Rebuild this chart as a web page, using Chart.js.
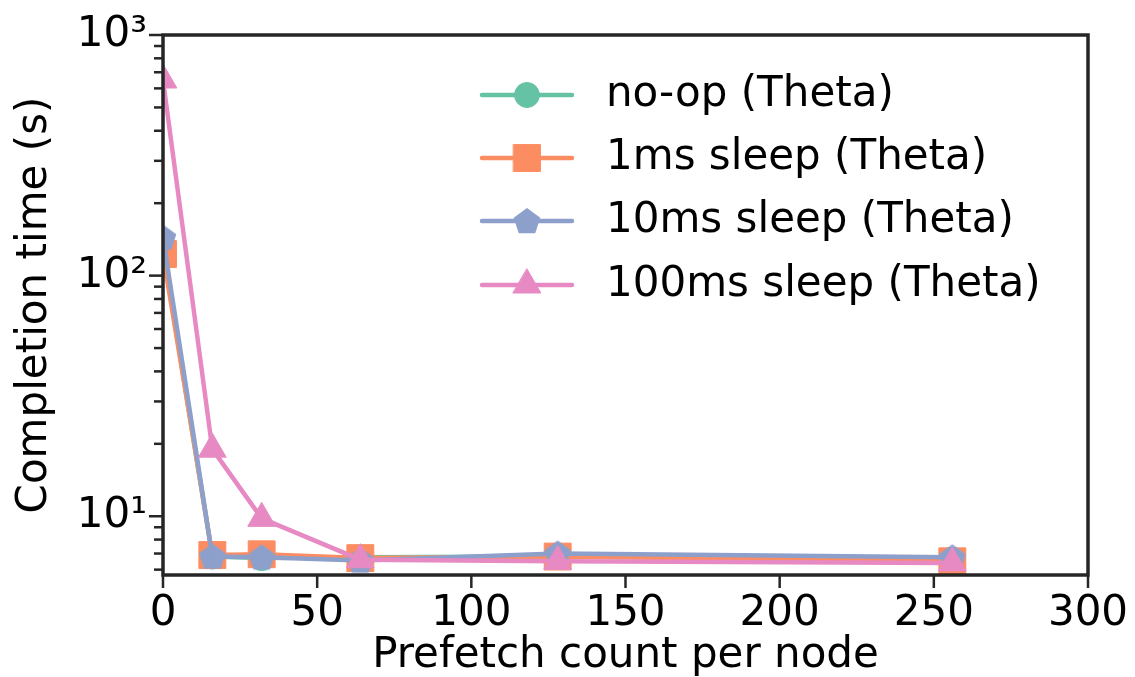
<!DOCTYPE html>
<html>
<head>
<meta charset="utf-8">
<script src="https://cdn.jsdelivr.net/npm/chart.js"></script>
<style>
  html, body { margin: 0; padding: 0; background: #fff; }
  canvas { display: block; }
</style>
</head>
<body>
<canvas id="myChart" width="1135" height="677"></canvas>
<script>
// data
const prefetch = [0, 16, 32, 64, 128, 256]
const noop = [128, 6.8, 6.7, 6.75, 6.8, 6.6]
const sleep1ms = [123, 6.9, 6.95, 6.7, 6.8, 6.5]
const sleep10ms = [144, 6.8, 6.75, 6.55, 7.0, 6.75]
const sleep100ms = [650, 19, 9.8, 6.6, 6.5, 6.4]
const seriesNames = ['no-op (Theta)', '1ms sleep (Theta)', '10ms sleep (Theta)', '100ms sleep (Theta)']
const xTicks = [0, 50, 100, 150, 200, 250, 300]
const yMajor = [10, 100, 1000]
const yLabels = { 10: '10\u00b9', 100: '10\u00b2', 1000: '10\u00b3' }

const colors = ['#66c2a5', '#fc8d62', '#8da0cb', '#e78ac3']
const FONT = "'DejaVu Sans', sans-serif"
const INK = '#262626'

// pentagon marker (no built-in one in chart.js)
function pentagon(color, r) {
  const c = document.createElement('canvas')
  c.width = Math.ceil(r * 2) + 2
  c.height = Math.ceil(r * 2) + 2
  const g = c.getContext('2d')
  const cx = c.width / 2, cy = c.height / 2 + 1
  g.beginPath()
  for (let i = 0; i < 5; i++) {
    const a = -Math.PI / 2 + i * 2 * Math.PI / 5
    const px = cx + r * Math.cos(a), py = cy + r * Math.sin(a)
    if (i === 0) g.moveTo(px, py); else g.lineTo(px, py)
  }
  g.closePath()
  g.fillStyle = color
  g.fill()
  return c
}

const styles = ['circle', 'rect', pentagon(colors[2], 14), 'triangle']
const radii = [12.5, 19, 14, 16]
const allValues = [noop, sleep1ms, sleep10ms, sleep100ms]

const datasets = allValues.map((vals, i) => ({
  label: seriesNames[i],
  data: prefetch.map((x, j) => ({ x: x, y: vals[j] })),
  borderColor: colors[i],
  backgroundColor: colors[i],
  borderWidth: 4.5,
  pointStyle: styles[i],
  pointRadius: radii[i],
  pointBorderWidth: 1,
  pointBorderColor: colors[i],
  pointBackgroundColor: colors[i],
  clip: 0,
  order: 4 - i
}))

function drawMarker(ctx, style, r, color, x, y) {
  if (Chart.helpers && Chart.helpers.drawPoint) {
    ctx.save()
    ctx.fillStyle = color
    ctx.strokeStyle = color
    ctx.lineWidth = 1
    Chart.helpers.drawPoint(ctx, { pointStyle: style, radius: r, rotation: 0, borderWidth: 1 }, x, y)
    ctx.restore()
    return
  }
  ctx.save()
  ctx.fillStyle = color
  if (style instanceof HTMLCanvasElement) {
    ctx.drawImage(style, x - style.width / 2, y - style.height / 2)
  } else if (style === 'rect') {
    const s = r * Math.SQRT1_2
    ctx.fillRect(x - s, y - s, 2 * s, 2 * s)
  } else if (style === 'triangle') {
    ctx.beginPath()
    for (let k = 0; k < 3; k++) {
      const a = k * 2 * Math.PI / 3
      ctx.lineTo(x + Math.sin(a) * r, y - Math.cos(a) * r)
    }
    ctx.closePath()
    ctx.fill()
  } else {
    ctx.beginPath()
    ctx.arc(x, y, r, 0, Math.PI * 2)
    ctx.fill()
  }
  ctx.restore()
}

// frame, tick marks and the in-plot legend
const framePlugin = {
  id: 'frame',
  afterDatasetsDraw(chart) {
    const ctx = chart.ctx
    const a = chart.chartArea
    const xs = chart.scales.x
    const ys = chart.scales.y
    ctx.save()
    ctx.strokeStyle = INK
    ctx.lineWidth = 2.5
    ctx.lineCap = 'butt'
    // y ticks
    ys.ticks.forEach(t => {
      const py = ys.getPixelForValue(t.value)
      if (py < a.top - 1 || py > a.bottom + 1) return
      const len = yMajor.includes(t.value) ? 14 : 9
      ctx.beginPath()
      ctx.moveTo(a.left - len, py)
      ctx.lineTo(a.left, py)
      ctx.stroke()
    })
    // x ticks
    xTicks.forEach(v => {
      const px = xs.getPixelForValue(v)
      ctx.beginPath()
      ctx.moveTo(px, a.bottom)
      ctx.lineTo(px, a.bottom + 13)
      ctx.stroke()
    })
    ctx.lineWidth = 3.5
    ctx.strokeRect(a.left, a.top, a.right - a.left, a.bottom - a.top)
    ctx.restore()
  },
  afterDraw(chart) {
    const ctx = chart.ctx
    const rows = [95, 158, 221, 285]
    ctx.save()
    for (let i = 0; i < seriesNames.length; i++) {
      const y = rows[i]
      ctx.strokeStyle = colors[i]
      ctx.lineWidth = 4.5
      ctx.lineCap = 'round'
      ctx.beginPath()
      ctx.moveTo(482, y)
      ctx.lineTo(572, y)
      ctx.stroke()
      drawMarker(ctx, styles[i], radii[i], colors[i], 527, y)
      ctx.fillStyle = '#000'
      ctx.font = '42px ' + FONT
      ctx.textBaseline = 'middle'
      ctx.textAlign = 'left'
      ctx.fillText(seriesNames[i], 606, y)
    }
    ctx.restore()
  }
}

const ctx = document.getElementById('myChart')

new Chart(ctx, {
  type: 'line',
  data: { datasets: datasets },
  options: {
    responsive: false,
    animation: false,
    devicePixelRatio: 1,
    layout: { padding: { left: 0, right: 47, top: 35, bottom: 0 } },
    plugins: {
      legend: { display: false },
      tooltip: { enabled: false }
    },
    scales: {
      x: {
        type: 'linear',
        min: 0,
        max: 300,
        afterFit: s => {
          s.height = 102
          s.paddingLeft = 0
          s.paddingRight = 0
        },
        afterBuildTicks: s => { s.ticks = xTicks.map(v => ({ value: v })) },
        grid: { display: false, drawTicks: false },
        border: { display: false },
        ticks: {
          padding: 14,
          color: '#000',
          font: { family: FONT, size: 42 },
          maxRotation: 0,
          autoSkip: false
        },
        title: {
          display: true,
          text: 'Prefetch count per node',
          color: '#000',
          font: { family: FONT, size: 42, lineHeight: 1 },
          padding: { top: 0, bottom: 0 }
        }
      },
      y: {
        type: 'logarithmic',
        min: 5.7,
        max: 1000,
        afterFit: s => {
          s.width = 163
          s.paddingTop = 0
          s.paddingBottom = 0
        },
        afterBuildTicks: s => {
          const t = []
          for (let d = 1; d <= 100; d *= 10) {
            for (let m = 1; m <= 9; m++) {
              const v = m * d
              if (v >= 5.7) t.push({ value: v })
            }
          }
          t.push({ value: 1000 })
          s.ticks = t
        },
        grid: { display: false, drawTicks: false },
        border: { display: false },
        ticks: {
          padding: 16,
          color: '#000',
          autoSkip: false,
          font: { family: FONT, size: 42 },
          callback: v => yLabels[v] || ''
        },
        title: {
          display: true,
          text: 'Completion time (s)',
          color: '#000',
          font: { family: FONT, size: 42, lineHeight: 1 },
          padding: { top: 14, bottom: 0 }
        }
      }
    }
  },
  plugins: [framePlugin]
})
</script>
</body>
</html>
